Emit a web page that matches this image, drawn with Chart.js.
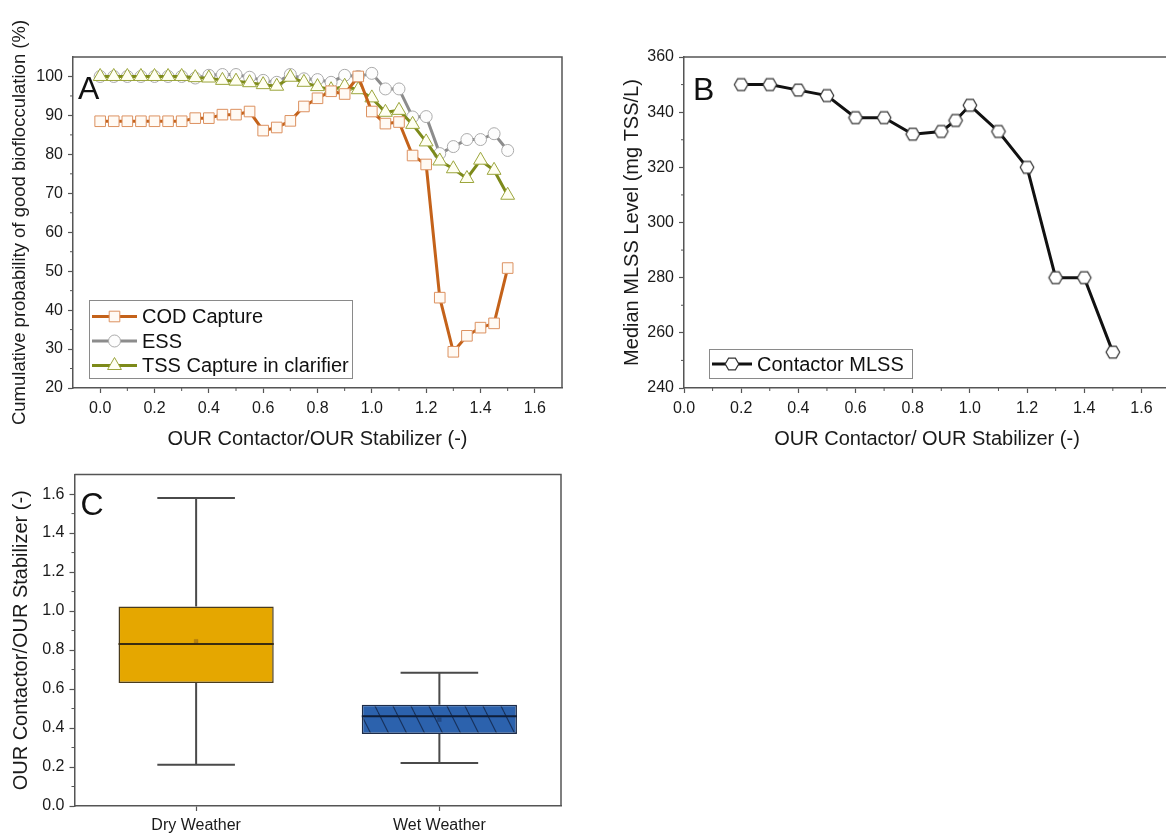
<!DOCTYPE html>
<html>
<head>
<meta charset="utf-8">
<title>OUR ratio and bioflocculation</title>
<script src="https://cdn.jsdelivr.net/npm/chart.js@4.4.1/dist/chart.umd.min.js"></script>
<style>
    html, body { margin: 0; padding: 0; background: #fff; overflow: hidden; }
    body { position: relative; width: 1166px; height: 836px; }
    canvas { position: absolute; }
    #chartA { left: 0; top: 0; }
    #chartB { left: 616px; top: 0; }
    #chartC { left: 0; top: 460px; }
</style>
</head>
<body>
<canvas id="chartA" width="580" height="455"></canvas>
<canvas id="chartB" width="600" height="455"></canvas>
<canvas id="chartC" width="580" height="376"></canvas>
<script>
// --- panel A: cumulative probability vs OUR ratio ---
const ratioA = [0, 0.05, 0.1, 0.15, 0.2, 0.25, 0.3, 0.35, 0.4, 0.45, 0.5, 0.55, 0.6, 0.65, 0.7, 0.75,
    0.8, 0.85, 0.9, 0.95, 1.0, 1.05, 1.1, 1.15, 1.2, 1.25, 1.3, 1.35, 1.4, 1.45, 1.5];
const codCapture = [88.5, 88.5, 88.5, 88.5, 88.5, 88.5, 88.5, 89.3, 89.3, 90.2, 90.2, 91.0, 86.1, 86.9, 88.6, 92.3,
    94.4, 96.2, 95.5, 100.0, 91.0, 87.9, 88.3, 79.7, 77.4, 43.2, 29.3, 33.4, 35.5, 36.6, 50.8];
const ess = [100, 100, 100, 100, 100, 100, 100, 99.6, 100.3, 100.5, 100.5, 99.8, 99.0, 98.5, 100.5, 99.4,
    99.2, 98.5, 100.3, 100.0, 100.8, 96.8, 96.8, 89.6, 89.7, 80.2, 82.0, 83.8, 83.8, 85.3, 81.0];
const tssCapture = [100, 100, 100, 100, 100, 100, 100, 99.7, 99.6, 99.0, 98.8, 98.4, 97.9, 97.5, 99.8, 98.5,
    97.4, 96.6, 97.5, 96.6, 94.5, 90.8, 91.3, 87.7, 83.2, 78.3, 76.3, 73.8, 78.5, 75.9, 69.5];
const xTicksA = [0, 0.2, 0.4, 0.6, 0.8, 1.0, 1.2, 1.4, 1.6];
const yTicksA = [20, 30, 40, 50, 60, 70, 80, 90, 100];

// --- panel B: median contactor MLSS ---
const ratioB = [0.2, 0.3, 0.4, 0.5, 0.6, 0.7, 0.8, 0.9, 0.95, 1.0, 1.1, 1.2, 1.3, 1.4, 1.5];
const mlss = [350, 350, 348, 346, 338, 338, 332, 333, 337, 342.5, 333, 320, 280, 280, 253];
const xTicksB = [0, 0.2, 0.4, 0.6, 0.8, 1.0, 1.2, 1.4, 1.6];
const yTicksB = [240, 260, 280, 300, 320, 340, 360];

// --- panel C: OUR ratio box plots ---
const weather = ['Dry Weather', 'Wet Weather'];
const whiskerLow = [0.212, 0.221];
const q1 = [0.631, 0.369];
const median = [0.831, 0.46];
const q3 = [1.024, 0.52];
const whiskerHigh = [1.58, 0.684];
const mean = [0.845, 0.443];
const yTicksC = [0, 0.2, 0.4, 0.6, 0.8, 1.0, 1.2, 1.4, 1.6];

const FONT = "'Liberation Sans', Arial, sans-serif";
const AXIS = '#555';
Chart.defaults.font.family = FONT;
Chart.defaults.color = '#1a1a1a';
Chart.defaults.animation = false;

function hexagon(r, fill, stroke) {
    const c = document.createElement('canvas');
    c.width = c.height = Math.ceil(r * 2 + 4);
    const g = c.getContext('2d');
    const m = c.width / 2;
    g.beginPath();
    for (let k = 0; k < 6; k++) {
        const a = k * Math.PI / 3;
        g.lineTo(m + r * Math.cos(a), m + r * Math.sin(a));
    }
    g.closePath();
    g.fillStyle = fill;
    g.fill();
    g.lineWidth = 1.2;
    g.strokeStyle = stroke;
    g.stroke();
    return c;
}

// blue fill with "\" hatching
function hatch() {
    const c = document.createElement('canvas');
    c.width = 18; c.height = 36;
    const g = c.getContext('2d');
    g.fillStyle = '#2c62ad';
    g.fillRect(0, 0, 18, 36);
    g.strokeStyle = '#17305a';
    g.lineWidth = 1.1;
    for (const dx of [-18, 0, 18]) {
        g.beginPath();
        g.moveTo(dx, 0);
        g.lineTo(dx + 18, 36);
        g.stroke();
    }
    return g.createPattern(c, 'repeat');
}

function drawMarker(ctx, ds, x, y) {
    const r = ds.pointRadius;
    ctx.save();
    ctx.fillStyle = ds.pointBackgroundColor;
    ctx.strokeStyle = ds.pointBorderColor;
    ctx.lineWidth = ds.pointBorderWidth || 1;
    if (ds.pointStyle instanceof HTMLCanvasElement) {
        ctx.drawImage(ds.pointStyle, x - ds.pointStyle.width / 2, y - ds.pointStyle.height / 2);
        ctx.restore();
        return;
    }
    ctx.beginPath();
    if (ds.pointStyle === 'rect') {
        const s = Math.SQRT1_2 * r;
        ctx.rect(x - s, y - s, 2 * s, 2 * s);
    } else if (ds.pointStyle === 'triangle') {
        ctx.moveTo(x, y - r);
        ctx.lineTo(x + r * 0.866, y + r / 2);
        ctx.lineTo(x - r * 0.866, y + r / 2);
        ctx.closePath();
    } else {
        ctx.arc(x, y, r, 0, Math.PI * 2);
    }
    ctx.fill();
    ctx.stroke();
    ctx.restore();
}

// boxed legend with line + marker samples, placed in canvas pixels
const boxLegend = {
    id: 'boxLegend',
    afterDraw(chart, args, opts) {
        const {ctx} = chart;
        const sets = chart.data.datasets;
        ctx.save();
        ctx.fillStyle = '#fff';
        ctx.fillRect(opts.left, opts.top, opts.width, opts.height);
        ctx.strokeStyle = '#8a8a8a';
        ctx.lineWidth = 1;
        ctx.strokeRect(opts.left + 0.5, opts.top + 0.5, opts.width, opts.height);
        sets.forEach((ds, i) => {
            const y = opts.top + opts.first + i * opts.row;
            const x0 = opts.left + 3;
            const x1 = x0 + opts.sample;
            ctx.strokeStyle = ds.borderColor;
            ctx.lineWidth = ds.borderWidth;
            ctx.beginPath();
            ctx.moveTo(x0, y);
            ctx.lineTo(x1, y);
            ctx.stroke();
            drawMarker(ctx, ds, (x0 + x1) / 2, y);
            ctx.fillStyle = '#111';
            ctx.font = '20px ' + FONT;
            ctx.textBaseline = 'middle';
            ctx.fillText(ds.label, x1 + 5, y + 1);
        });
        ctx.restore();
    }
};

// top/right frame, minor ticks and the panel letter
const frame = {
    id: 'frame',
    afterDraw(chart, args, opts) {
        const {ctx, chartArea: a} = chart;
        ctx.save();
        ctx.strokeStyle = AXIS;
        ctx.lineWidth = 1.5;
        ctx.beginPath();
        ctx.moveTo(a.left, a.top);
        ctx.lineTo(a.right, a.top);
        ctx.lineTo(a.right, a.bottom);
        ctx.stroke();
        ctx.lineWidth = 1;
        ['x', 'y'].forEach(id => {
            const s = chart.scales[id];
            if (s.type !== 'linear') return;
            const major = s.ticks.map(t => t.value);
            const step = major[1] - major[0];
            for (let v = major[0] - step / 2; v < s.max - 1e-9; v += step) {
                if (v <= s.min + 1e-9) continue;
                const p = s.getPixelForValue(v);
                ctx.beginPath();
                if (id === 'x') { ctx.moveTo(p, a.bottom); ctx.lineTo(p, a.bottom + 3); }
                else { ctx.moveTo(a.left - 3, p); ctx.lineTo(a.left, p); }
                ctx.stroke();
            }
        });
        ctx.fillStyle = '#111';
        ctx.font = '32px ' + FONT;
        ctx.textBaseline = 'alphabetic';
        ctx.fillText(opts.letter, a.left + opts.dx, a.top + opts.dy);
        ctx.restore();
    }
};

function axisStyle(extra) {
    return Object.assign({
        grid: {display: true, drawOnChartArea: false, drawTicks: true, tickLength: 5, tickWidth: 1.2, tickColor: AXIS, offset: false},
        border: {display: true, color: AXIS, width: 1.5},
    }, extra);
}

function fixedTicks(list) {
    return s => { s.ticks = list.map(v => ({value: v})); };
}

// panel A
new Chart(document.getElementById('chartA'), {
    type: 'line',
    data: {
        datasets: [{
            label: 'COD Capture',
            data: ratioA.map((x, i) => ({x: x, y: codCapture[i]})),
            borderColor: '#c4621a',
            borderWidth: 3,
            pointStyle: 'rect',
            pointRadius: 7.5,
            pointBackgroundColor: '#fffaf4',
            pointBorderColor: '#dc9160',
            pointBorderWidth: 1,
            order: 0
        },
        {
            label: 'ESS',
            data: ratioA.map((x, i) => ({x: x, y: ess[i]})),
            borderColor: '#8c8c8c',
            borderWidth: 3,
            pointStyle: 'circle',
            pointRadius: 6,
            pointBackgroundColor: '#fdfdfd',
            pointBorderColor: '#ababab',
            pointBorderWidth: 1,
            order: 2
        },
        {
            label: 'TSS Capture in clarifier',
            data: ratioA.map((x, i) => ({x: x, y: tssCapture[i]})),
            borderColor: '#7d8a1a',
            borderWidth: 3,
            pointStyle: 'triangle',
            pointRadius: 8,
            pointBackgroundColor: '#fffff2',
            pointBorderColor: '#9ba53c',
            pointBorderWidth: 1,
            order: 1
        }]
    },
    options: {
        responsive: false,
        layout: {padding: {left: 5, top: 57, right: 18, bottom: 0}},
        plugins: {
            legend: {display: false},
            tooltip: {enabled: false},
            boxLegend: {left: 89, top: 300, width: 263, height: 78, first: 16.5, row: 24.5, sample: 45},
            frame: {letter: 'A', dx: 5, dy: 42}
        },
        scales: {
            x: axisStyle({
                type: 'linear', min: -0.1, max: 1.7,
                afterBuildTicks: fixedTicks(xTicksA),
                afterFit: s => { s.height = 455 - 388; },
                ticks: {font: {size: 16}, padding: 6, autoSkip: false, maxRotation: 0, callback: v => v.toFixed(1)},
                title: {display: true, text: 'OUR Contactor/OUR Stabilizer (-)', font: {size: 20}}
            }),
            y: axisStyle({
                type: 'linear', min: 20, max: 105,
                afterBuildTicks: fixedTicks(yTicksA),
                afterFit: s => { s.width = 68; },
                ticks: {font: {size: 16}, padding: 5},
                title: {display: true, text: 'Cumulative probability of good bioflocculation (%)', font: {size: 18.5}}
            })
        }
    },
    plugins: [frame, boxLegend]
});

// panel B
new Chart(document.getElementById('chartB'), {
    type: 'line',
    data: {
        datasets: [{
            label: 'Contactor MLSS',
            data: ratioB.map((x, i) => ({x: x, y: mlss[i]})),
            borderColor: '#111',
            borderWidth: 3,
            pointStyle: hexagon(6.8, '#fff', '#333'),
            pointRadius: 7,
            pointBackgroundColor: '#fff',
            pointBorderColor: '#333'
        }]
    },
    options: {
        responsive: false,
        layout: {padding: {left: 0, top: 57, right: 600 - 554, bottom: 0}},
        plugins: {
            legend: {display: false},
            tooltip: {enabled: false},
            boxLegend: {left: 93, top: 349, width: 203, height: 29, first: 15, row: 24, sample: 40},
            frame: {letter: 'B', dx: 9, dy: 43}
        },
        scales: {
            x: axisStyle({
                type: 'linear', min: 0, max: 1.7,
                afterBuildTicks: fixedTicks(xTicksB),
                afterFit: s => { s.height = 455 - 388; },
                ticks: {font: {size: 16}, padding: 6, autoSkip: false, maxRotation: 0, callback: v => v.toFixed(1)},
                title: {display: true, text: 'OUR Contactor/ OUR Stabilizer (-)', font: {size: 20}}
            }),
            y: axisStyle({
                type: 'linear', min: 240, max: 360,
                afterBuildTicks: fixedTicks(yTicksB),
                afterFit: s => { s.width = 68; },
                ticks: {font: {size: 16}, padding: 5},
                title: {display: true, text: 'Median MLSS Level (mg TSS/L)', font: {size: 20}}
            })
        }
    },
    plugins: [frame, boxLegend]
});

// whiskers, caps and medians for the boxes of panel C
const boxParts = {
    id: 'boxParts',
    beforeDatasetsDraw(chart) {
        const {ctx, scales: {y}} = chart;
        const bars = chart.getDatasetMeta(0).data;
        ctx.save();
        ctx.strokeStyle = '#4a4a4a';
        ctx.lineWidth = 2;
        weather.forEach((w, i) => {
            const px = bars[i].x;
            const cap = bars[i].width / 4;
            const lo = y.getPixelForValue(whiskerLow[i]);
            const hi = y.getPixelForValue(whiskerHigh[i]);
            ctx.beginPath();
            ctx.moveTo(px, hi); ctx.lineTo(px, y.getPixelForValue(q3[i]));
            ctx.moveTo(px, lo); ctx.lineTo(px, y.getPixelForValue(q1[i]));
            ctx.moveTo(px - cap, hi); ctx.lineTo(px + cap, hi);
            ctx.moveTo(px - cap, lo); ctx.lineTo(px + cap, lo);
            ctx.stroke();
        });
        ctx.restore();
    },
    afterDatasetsDraw(chart) {
        const {ctx, scales: {y}} = chart;
        const bars = chart.getDatasetMeta(0).data;
        ctx.save();
        ctx.lineWidth = 2;
        weather.forEach((w, i) => {
            const half = bars[i].width / 2;
            const py = y.getPixelForValue(median[i]);
            ctx.strokeStyle = i === 0 ? '#3a2c10' : '#0f1e38';
            ctx.beginPath();
            ctx.moveTo(bars[i].x - half, py);
            ctx.lineTo(bars[i].x + half, py);
            ctx.stroke();
        });
        ctx.restore();
    }
};

// panel C
new Chart(document.getElementById('chartC'), {
    type: 'bar',
    data: {
        labels: weather,
        datasets: [{
            type: 'bar',
            label: 'Interquartile range',
            data: weather.map((w, i) => [q1[i], q3[i]]),
            backgroundColor: ['#e5a700', hatch()],
            borderColor: ['#4a3b1c', '#1d2c48'],
            borderWidth: 1.5,
            borderSkipped: false,
            categoryPercentage: 1,
            barPercentage: 0.638,
            order: 1
        },
        {
            type: 'line',
            label: 'Mean',
            data: mean,
            showLine: false,
            pointStyle: 'rect',
            pointRadius: 2.6,
            pointBackgroundColor: ['rgba(150,100,20,0.55)', 'rgba(30,60,110,0.6)'],
            pointBorderColor: ['rgba(150,100,20,0.55)', 'rgba(30,60,110,0.6)'],
            pointBorderWidth: 0.5,
            order: 0
        }]
    },
    options: {
        responsive: false,
        layout: {padding: {left: 5, top: 14.5, right: 19, bottom: 0}},
        plugins: {
            legend: {display: false},
            tooltip: {enabled: false},
            frame: {letter: 'C', dx: 6, dy: 40}
        },
        scales: {
            x: axisStyle({
                type: 'category',
                offset: true,
                afterFit: s => { s.height = 30; },
                ticks: {font: {size: 16}, padding: 5, maxRotation: 0}
            }),
            y: axisStyle({
                type: 'linear', min: 0, max: 1.7,
                afterBuildTicks: fixedTicks(yTicksC),
                afterFit: s => { s.width = 69.5; },
                ticks: {font: {size: 16}, padding: 5, callback: v => v.toFixed(1)},
                title: {display: true, text: 'OUR Contactor/OUR Stabilizer (-)', font: {size: 20}}
            })
        }
    },
    plugins: [frame, boxParts]
});
</script>
</body>
</html>
